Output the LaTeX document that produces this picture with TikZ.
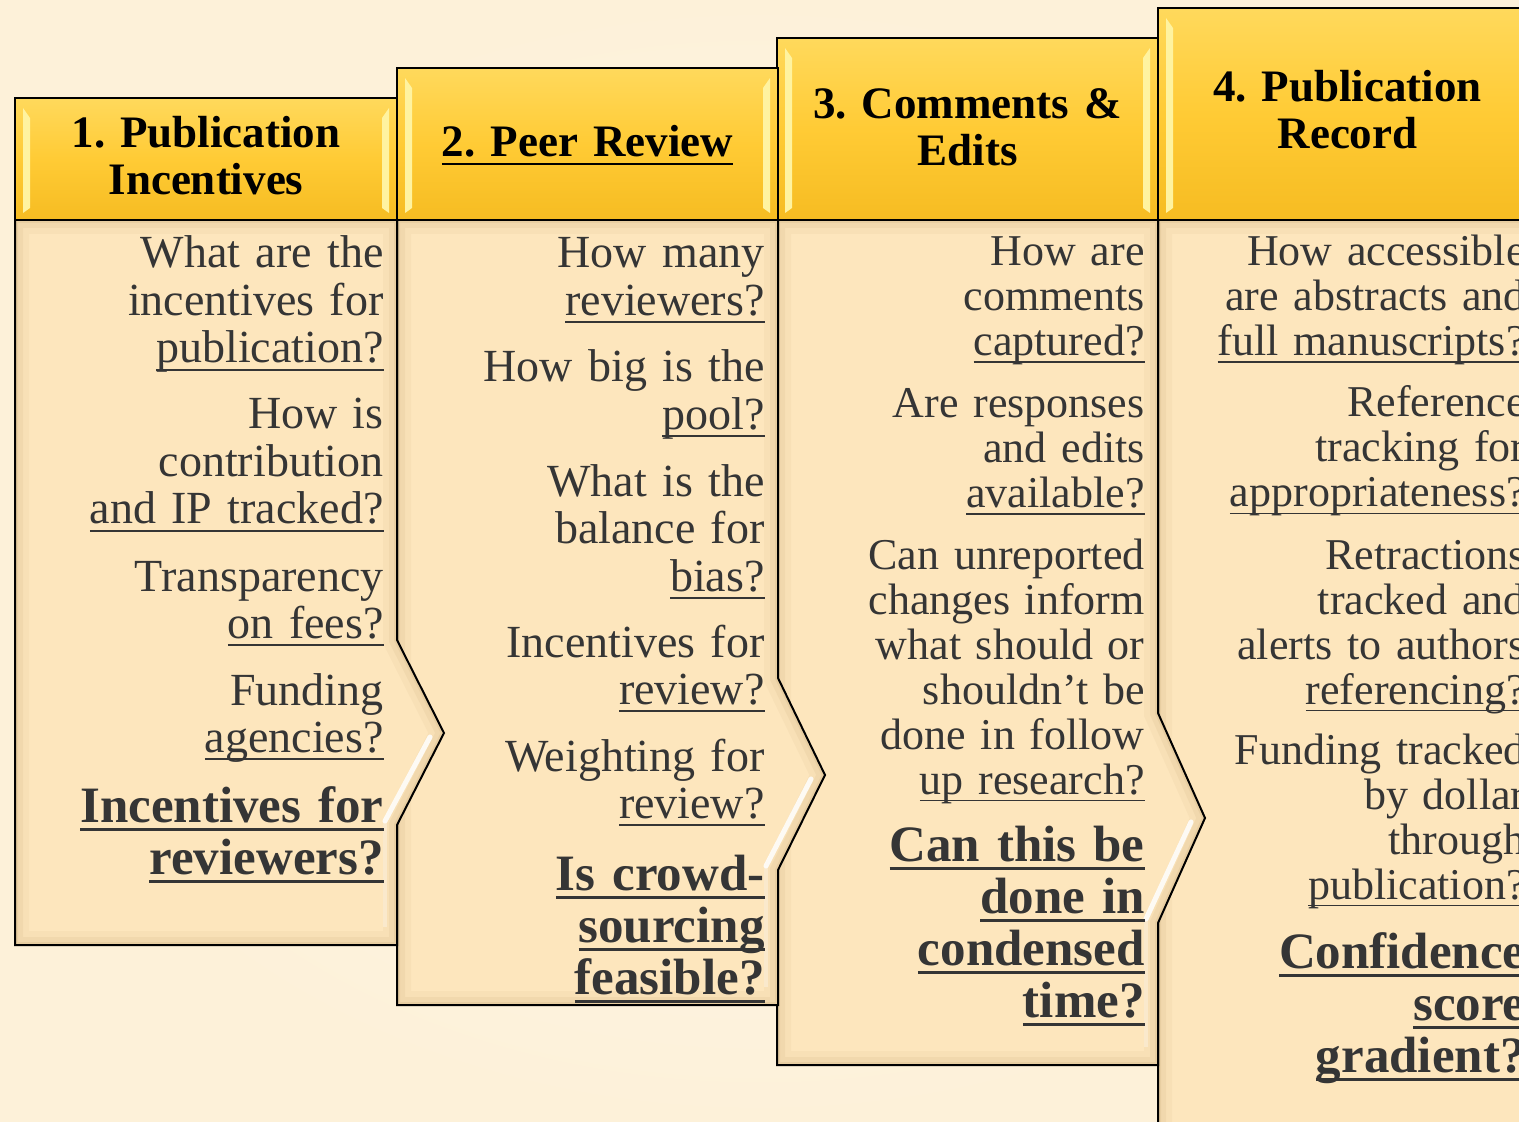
\documentclass[tikz,border=0pt]{standalone}
\usepackage{fontspec}
\setmainfont{Liberation Serif}
\usepackage{tikz}
\usetikzlibrary{positioning}

\definecolor{paper}{HTML}{FDF1D9}
\definecolor{paperlight}{HTML}{FFF8EC}
\definecolor{gold}{HTML}{FFCB35}
\definecolor{goldlight}{HTML}{FFD95C}
\definecolor{golddark}{HTML}{F6BC22}
\definecolor{shine}{HTML}{FFF3A0}
\definecolor{sand}{HTML}{FDE6BD}
\definecolor{sanddark}{HTML}{9C7A40}
\definecolor{ink}{HTML}{353535}

% underline drawn through the descenders
\newcommand\undl[1]{\leavevmode\setbox0=\hbox{#1}\rlap{\rule[-.17em]{\wd0}{.045em}}\box0}

\tikzset{
  colhead/.style={font=\fontsize{22.5}{23.5}\selectfont\bfseries, text width=180pt,
    align=center, anchor=base, inner sep=0pt},
  question/.style={font=\fontsize{23}{23.75}\selectfont, text=ink, text width=185pt,
    align=right, anchor=base east, inner sep=0pt},
  smallq/.style={question, font=\fontsize{22}{22.5}\selectfont},
  bigq/.style={question, font=\fontsize{25.5}{26}\selectfont\bfseries},
  edge/.style={draw=black, line width=1pt},
}

\begin{document}
\frenchspacing
\begin{tikzpicture}[x=.5pt, y=-.5pt]
    \useasboundingbox (0,0) rectangle (1519,1122);
    \clip (0,0) rectangle (1519,1122);
    \shade[inner color=paperlight, outer color=paper] (0,0) rectangle (1519,1122);

    % columns from right to left, each tip lies over the next column
    \foreach \l/\r/\t/\b/\ct/\ay/\cb in {1158/1537/8/1140/760/860/960,
                                          777/1158/38/1065/713/818/923,
                                          397/778/68/1005/678/775/870,
                                          15/397/98/945/640/733/825}{
        \path (\l,220) coordinate (nw) (\r,220) coordinate (ne) (\r,\ct) coordinate (ta)
              (\r+47,\ay) coordinate (tip) (\r,\cb) coordinate (tb)
              (\r,\b) coordinate (se) (\l,\b) coordinate (sw);
        \fill[sand] (nw) -- (ne) -- (ta) -- (tip) -- (tb) -- (se) -- (sw) -- cycle;
        \begin{scope}
            \clip (nw) -- (ne) -- (ta) -- (tip) -- (tb) -- (se) -- (sw) -- cycle;
            \foreach \lw/\op in {14/.05, 8/.07, 3/.1}
                \draw[sanddark, line width=\lw pt, opacity=\op]
                    (nw) -- (ne) -- (ta) -- (tip) -- (tb) -- (se) -- (sw) -- cycle;
        \end{scope}
        \draw[white, opacity=.85, line width=2.5pt, line cap=round] (\r+33,\ay+4) -- (\r-12,\cb-4);
        \draw[white, opacity=.3, line width=2pt] (\r-12,\cb-4) -- (\r-12,\b-18);
        \draw[edge] (nw) -- (ne) -- (ta) -- (tip) -- (tb) -- (se) -- (sw) -- cycle;
        % header block
        \shade[top color=goldlight, bottom color=golddark, middle color=gold] (\l,\t) rectangle (\r,220);
        \fill[shine] (\l+8,\t+10) -- (\l+15,\t+20) -- (\l+15,208) -- (\l+8,213) -- cycle;
        \fill[shine] (\r-8,\t+10) -- (\r-15,\t+20) -- (\r-15,208) -- (\r-8,213) -- cycle;
        \draw[edge] (\l,\t) rectangle (\r,220);
    }

    \node[colhead] (h1) at (206,148) {1. Publication\\Incentives};
    \node[colhead] (h2) at (587.5,157) {\undl{2. Peer Review}};
    \node[colhead] (h3) at (967.5,119) {3. Comments \&\\Edits};
    \node[colhead] (h4) at (1347.5,102) {4. Publication\\Record};

    \node[question] (q11) at (384,268) {What are the\\incentives for\\\undl{publication?}};
    \node[question] (q12) at (384,429) {How is\\contribution\\\undl{and IP tracked?}};
    \node[question] (q13) at (384,591) {Transparency\\\undl{on fees?}};
    \node[question] (q14) at (384,705) {Funding\\\undl{agencies?}};
    \node[bigq] (q15) at (384,822) {\undl{Incentives for}\\\undl{reviewers?}};

    \node[question] (q21) at (765,268) {How many\\\undl{reviewers?}};
    \node[question] (q22) at (765,382) {How big is the\\\undl{pool?}};
    \node[question] (q23) at (765,496) {What is the\\balance for\\\undl{bias?}};
    \node[question] (q24) at (765,657) {Incentives for\\\undl{review?}};
    \node[question] (q25) at (765,771) {Weighting for\\\undl{review?}};
    \node[bigq] (q26) at (765,890) {\undl{Is crowd-}\\\undl{sourcing}\\\undl{feasible?}};

    \node[smallq] (q31) at (1145,266) {How are\\comments\\\undl{captured?}};
    \node[smallq] (q32) at (1145,418) {Are responses\\and edits\\\undl{available?}};
    \node[smallq] (q33) at (1145,569) {Can unreported\\changes inform\\what should or\\shouldn't be\\done in follow\\\undl{up research?}};
    \node[bigq] (q34) at (1145,861) {\undl{Can this be}\\\undl{done in}\\\undl{condensed}\\\undl{time?}};

    \node[smallq] (q41) at (1526,266) {How accessible\\are abstracts and\\\undl{full manuscripts?}};
    \node[smallq] (q42) at (1526,417) {Reference\\tracking for\\\undl{appropriateness?}};
    \node[smallq] (q43) at (1526,569) {Retractions\\tracked and\\alerts to authors\\\undl{referencing?}};
    \node[smallq] (q44) at (1526,764) {Funding tracked\\by dollar\\through\\\undl{publication?}};
    \node[bigq] (q45) at (1526,968) {\undl{Confidence}\\\undl{score}\\\undl{gradient?}};
\end{tikzpicture}
\end{document}
